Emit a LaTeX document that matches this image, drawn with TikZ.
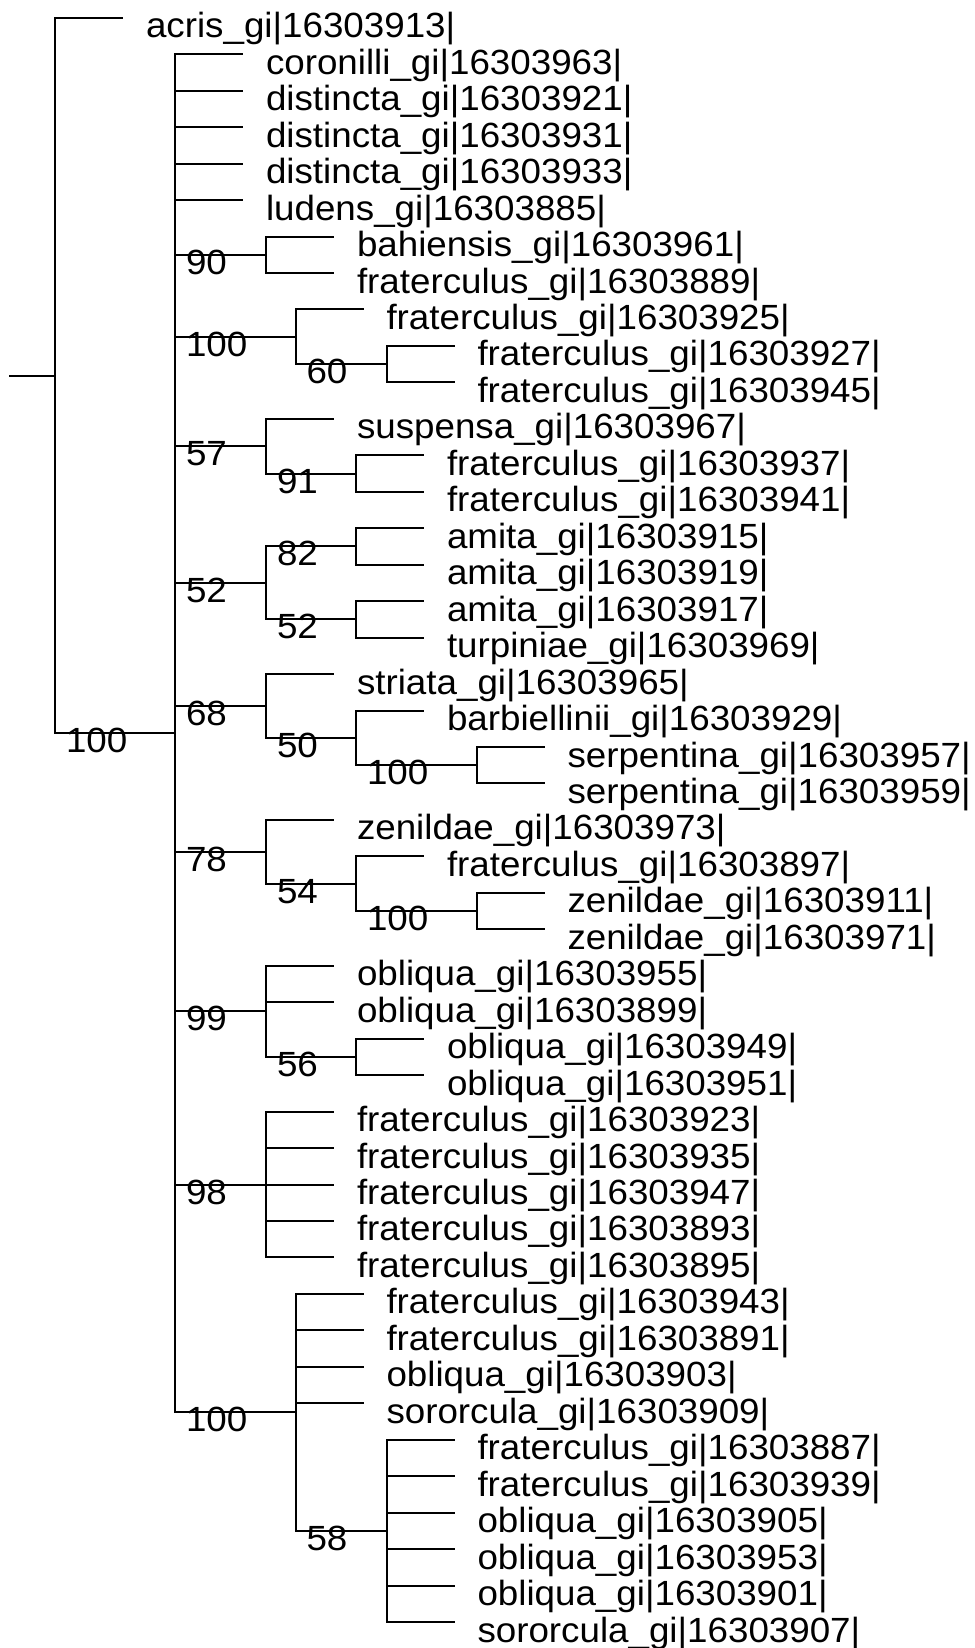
\documentclass[tikz,border=0pt]{standalone}
\usepackage{fontspec}
\setmainfont{Liberation Sans}[FakeStretch=1.05]
\usetikzlibrary{calc,math}
\tikzset{
branch/.style={line width=2pt},
tiplab/.style={anchor=base west, inner sep=0pt, xshift=22.5pt, yshift=-20pt},
bootlab/.style={pos=0.5, anchor=base west, inner sep=0pt, xshift=10pt, yshift=-19.5pt}
}

\begin{document}
\begin{tikzpicture}[x=1pt,y=-1pt,font=\fontsize{35pt}{38pt}\selectfont]
\tikzmath{
\dy=36.46;
\yo=17.8;
\tl=68.3;
}
\useasboundingbox (0,0) rectangle (974,1648);

% clades
\coordinate (root) at (55,{\yo+\dy*9.8125});
\coordinate (stem) at (9,{\yo+\dy*9.8125});
\coordinate (crown) at (175,{\yo+\dy*19.625});
\coordinate (c90) at (266,{\yo+\dy*6.5});
\coordinate (c100a) at (295.5,{\yo+\dy*8.75});
\coordinate (c60) at (386.5,{\yo+\dy*9.5});
\coordinate (c57) at (266,{\yo+\dy*11.75});
\coordinate (c91) at (356,{\yo+\dy*12.5});
\coordinate (c52a) at (266,{\yo+\dy*15.5});
\coordinate (c82) at (356,{\yo+\dy*14.5});
\coordinate (c52b) at (356,{\yo+\dy*16.5});
\coordinate (c68) at (266,{\yo+\dy*18.875});
\coordinate (c50) at (356,{\yo+\dy*19.75});
\coordinate (c100b) at (476.5,{\yo+\dy*20.5});
\coordinate (c78) at (266,{\yo+\dy*22.875});
\coordinate (c54) at (356,{\yo+\dy*23.75});
\coordinate (c100c) at (476.5,{\yo+\dy*24.5});
\coordinate (c99) at (266,{\yo+\dy*27.25});
\coordinate (c56) at (356,{\yo+\dy*28.5});
\coordinate (c98) at (266,{\yo+\dy*32});
\coordinate (c100d) at (295.5,{\yo+\dy*38.25});
\coordinate (c58) at (386.5,{\yo+\dy*41.5});

\draw[branch] (stem) -- (root);
\foreach \pa/\ch/\bs in {root/crown/100, crown/c90/90, crown/c100a/100, c100a/c60/60,
  crown/c57/57, c57/c91/91, crown/c52a/52, c52a/c82/82, c52a/c52b/52,
  crown/c68/68, c68/c50/50, c50/c100b/100, crown/c78/78, c78/c54/54, c54/c100c/100,
  crown/c99/99, c99/c56/56, crown/c98/98, crown/c100d/100, c100d/c58/58}
  \draw[branch] (\pa) |- (\ch) node[bootlab] (b\ch) {\bs};

% tips
\foreach \i/\pa/\spc/\gid in {0/root/acris/16303913, 1/crown/coronilli/16303963,
  2/crown/distincta/16303921, 3/crown/distincta/16303931, 4/crown/distincta/16303933,
  5/crown/ludens/16303885, 6/c90/bahiensis/16303961, 7/c90/fraterculus/16303889,
  8/c100a/fraterculus/16303925, 9/c60/fraterculus/16303927, 10/c60/fraterculus/16303945,
  11/c57/suspensa/16303967, 12/c91/fraterculus/16303937, 13/c91/fraterculus/16303941,
  14/c82/amita/16303915, 15/c82/amita/16303919, 16/c52b/amita/16303917,
  17/c52b/turpiniae/16303969, 18/c68/striata/16303965, 19/c50/barbiellinii/16303929,
  20/c100b/serpentina/16303957, 21/c100b/serpentina/16303959, 22/c78/zenildae/16303973,
  23/c54/fraterculus/16303897, 24/c100c/zenildae/16303911, 25/c100c/zenildae/16303971,
  26/c99/obliqua/16303955, 27/c99/obliqua/16303899, 28/c56/obliqua/16303949,
  29/c56/obliqua/16303951, 30/c98/fraterculus/16303923, 31/c98/fraterculus/16303935,
  32/c98/fraterculus/16303947, 33/c98/fraterculus/16303893, 34/c98/fraterculus/16303895,
  35/c100d/fraterculus/16303943, 36/c100d/fraterculus/16303891, 37/c100d/obliqua/16303903,
  38/c100d/sororcula/16303909, 39/c58/fraterculus/16303887, 40/c58/fraterculus/16303939,
  41/c58/obliqua/16303905, 42/c58/obliqua/16303953, 43/c58/obliqua/16303901,
  44/c58/sororcula/16303907}
{
  \coordinate (y\i) at (0,{\yo+\dy*\i});
  \coordinate (t\i) at ($(\pa |- y\i)+(\tl,0)$);
  \draw[branch] (\pa) |- (t\i);
  \node[tiplab] (l\i) at (t\i) {\spc\_gi|\gid|};
}
\end{tikzpicture}
\end{document}
